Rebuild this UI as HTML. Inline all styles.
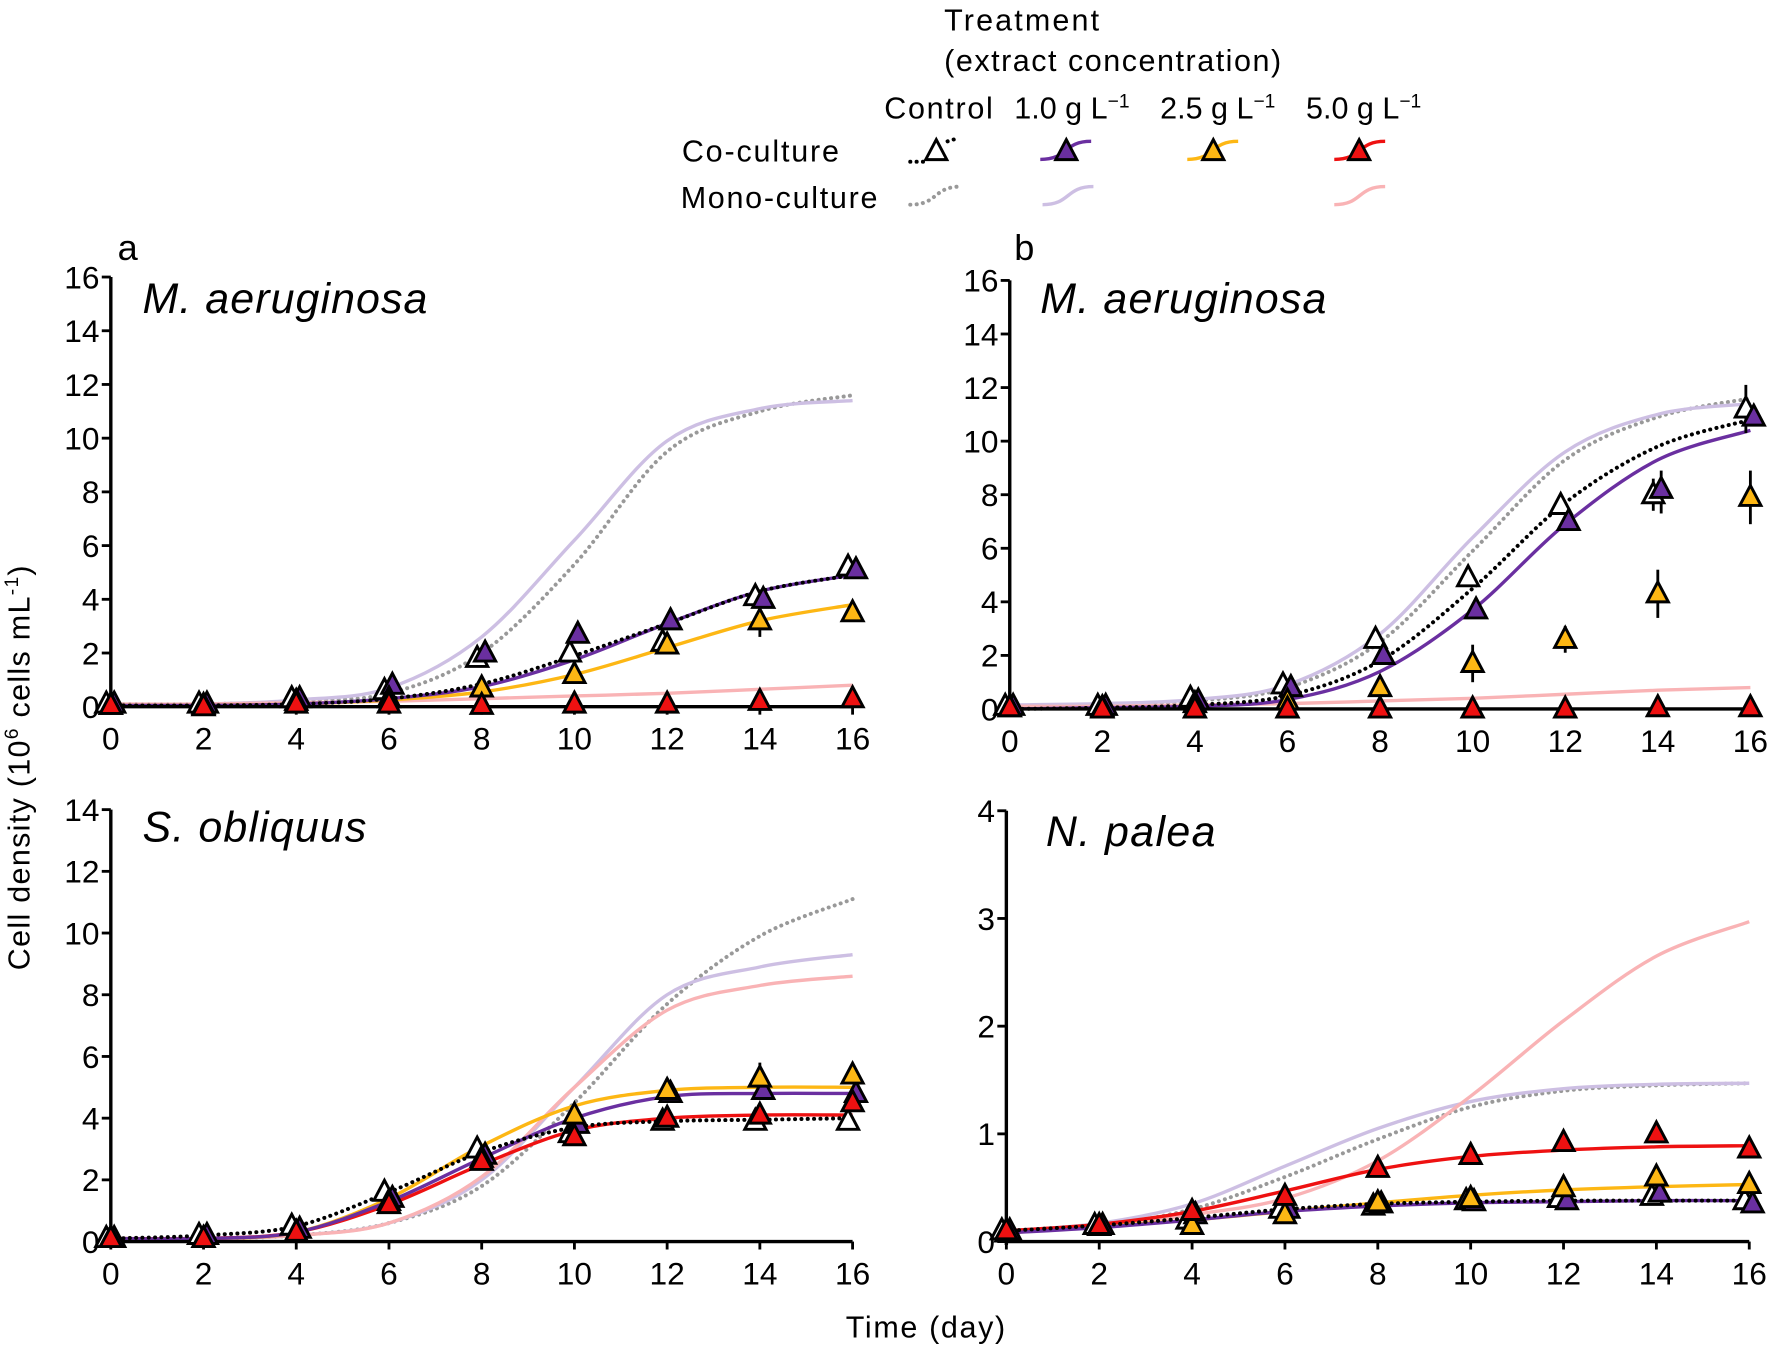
<!DOCTYPE html>
<html><head><meta charset="utf-8">
<style>html,body{margin:0;padding:0;background:#fff;}svg{display:block;}
text{font-family:"Liberation Sans",Arial,sans-serif;fill:#000;}</style></head>
<body>
<svg id="s" width="1773" height="1349" viewBox="0 0 1568 1193" preserveAspectRatio="none" xmlns="http://www.w3.org/2000/svg">
<g font-size="27">
<text x="835" y="27" textLength="137">Treatment</text>
<text x="835" y="63" textLength="298">(extract concentration)</text>
<text x="782" y="105" textLength="96">Control</text>
<text x="897" y="105">1.0 g L<tspan font-size="17" dy="-10">−1</tspan></text>
<text x="1026" y="105">2.5 g L<tspan font-size="17" dy="-10">−1</tspan></text>
<text x="1155" y="105">5.0 g L<tspan font-size="17" dy="-10">−1</tspan></text>
<text x="603" y="143" textLength="139">Co-culture</text>
<text x="602" y="184" textLength="174">Mono-culture</text>
<text x="104" y="230" font-size="32">a</text>
<text x="897" y="230" font-size="32">b</text>
<text x="748" y="1183" textLength="141">Time (day)</text>
<text transform="translate(26,858) rotate(-90)" textLength="358">Cell density (10<tspan font-size="17" dy="-10">6</tspan><tspan dy="10"> cells mL</tspan><tspan font-size="17" dy="-10">-1</tspan><tspan dy="10">)</tspan></text>
</g>
<g font-size="38" font-style="italic">
<text x="126" y="277" textLength="252">M. aeruginosa</text>
<text x="920" y="277" textLength="253">M. aeruginosa</text>
<text x="126" y="744" textLength="198">S. obliquus</text>
<text x="925" y="748" textLength="150">N. palea</text>
</g>
<g id="legend"></g>
<g id="plots"></g>
</svg>
<script>
const NS="http://www.w3.org/2000/svg";
const P=document.getElementById('plots');
function el(t,a,p){const e=document.createElementNS(NS,t);for(const k in a)e.setAttribute(k,a[k]);(p||P).appendChild(e);return e;}
const C={grey:'#999',lav:'#cdbfe3',pink:'#f9b3b5',black:'#000',purple:'#6a2fa0',yellow:'#fdb714',red:'#ee1111'};
function smooth(pts){let d='M'+pts[0][0]+','+pts[0][1];
 for(let i=0;i<pts.length-1;i++){const p0=pts[Math.max(0,i-1)],p1=pts[i],p2=pts[i+1],p3=pts[Math.min(pts.length-1,i+2)];
 const c1=[p1[0]+(p2[0]-p0[0])/6,p1[1]+(p2[1]-p0[1])/6],c2=[p2[0]-(p3[0]-p1[0])/6,p2[1]-(p3[1]-p1[1])/6];
 d+=' C'+c1+' '+c2+' '+p2;}return d;}
function tri(x,y,fill,g){const s=17;el('path',{d:`M${x},${y-s*0.62} L${x+s*0.55},${y+s*0.42} L${x-s*0.55},${y+s*0.42} Z`,fill:fill,stroke:'#000','stroke-width':2.6,'stroke-linejoin':'miter'},g);}
function dot(a){a['stroke-dasharray']='0.1,5.5';a['stroke-linecap']='round';a['stroke-width']=3.5;}
function panel(o){
 const X=d=>o.x0+d*(o.x1-o.x0)/16, Y=v=>o.y0-v*(o.y0-o.yt)/o.ymax;
 el('line',{x1:o.x0,y1:o.yt,x2:o.x0,y2:o.y0+3,stroke:'#000','stroke-width':3});
 for(let v=0;v<=o.ymax;v+=o.ystep){el('line',{x1:o.x0-8,y1:Y(v),x2:o.x0,y2:Y(v),stroke:'#000','stroke-width':2.5});
  const t=el('text',{x:o.x0-10,y:Y(v)+10,'text-anchor':'end','font-size':28});t.textContent=v;}
 for(let d=0;d<=16;d+=2){el('line',{x1:X(d),y1:o.y0,x2:X(d),y2:o.y0+7,stroke:'#000','stroke-width':2.5});
  const t=el('text',{x:X(d),y:o.y0+38,'text-anchor':'middle','font-size':28});t.textContent=d;}
 const order=['grey','lav','pink','yellow','red','purple','black'];
 order.forEach(k=>{if(!o.c[k])return;const pts=o.c[k].map((v,i)=>[X(i*2),Y(v)]);
  const a={d:smooth(pts),fill:'none',stroke:C[k],'stroke-width':3};
  if(k=='grey'||k=='black')dot(a);
  el('path',a);});
 el('line',{x1:o.x0,y1:o.y0,x2:o.x1,y2:o.y0,stroke:'#000','stroke-width':3});
 (o.e||[]).forEach(e=>{const x=X(e[0])+e[3];el('line',{x1:x,y1:Y(e[1]-e[2]),x2:x,y2:Y(e[1]+e[2]),stroke:'#000','stroke-width':2.5});});
 const fills={white:'#fff',purple:'#6a2fa0',yellow:'#fdb714',red:'#ee1111'},off={white:-4,purple:3,yellow:0,red:0};
 ['white','purple','yellow','red'].forEach(k=>{if(!o.m[k])return;o.m[k].forEach((v,i)=>tri(X(i*2)+off[k],Y(v),fills[k]));});
}
panel({x0:98,x1:754,y0:625,yt:245,ymax:16,ystep:2,
 c:{grey:[0.1,0.1,0.2,0.5,2.0,5.3,9.5,11.0,11.6],lav:[0.1,0.1,0.25,0.7,2.6,6.2,9.9,11.1,11.4],pink:[0.1,0.1,0.15,0.2,0.3,0.4,0.5,0.65,0.8],
 black:[0.05,0.05,0.1,0.3,0.85,1.9,3.1,4.3,4.9],purple:[0.05,0.05,0.1,0.3,0.75,1.75,3.1,4.3,4.9],yellow:[0.05,0.05,0.1,0.25,0.55,1.2,2.2,3.2,3.8]},
 e:[[14,3.2,0.6,0]],
 m:{white:[0.1,0.1,0.3,0.6,1.8,2.0,2.4,4.1,5.2],purple:[0.1,0.1,0.3,0.8,2.0,2.7,3.2,4.0,5.1],yellow:[0.05,0.05,0.2,0.3,0.7,1.2,2.3,3.2,3.5],red:[0.05,0,0.1,0.1,0.05,0.1,0.1,0.2,0.3]}});
panel({x0:893,x1:1548,y0:627,yt:248,ymax:16,ystep:2,
 c:{grey:[0.1,0.15,0.3,0.8,2.5,5.9,9.3,10.9,11.6],lav:[0.15,0.2,0.35,0.9,2.8,6.4,9.6,11,11.4],pink:[0.1,0.1,0.15,0.2,0.3,0.4,0.55,0.7,0.8],
 black:[0,0.05,0.15,0.5,1.8,4.5,7.7,9.8,10.8],purple:[0,0.05,0.1,0.35,1.4,3.7,6.9,9.3,10.4]},
 e:[[10,1.7,0.7,0],[12,2.6,0.5,0],[14,4.3,0.9,0],[16,7.9,1.0,0],[14,8.1,0.8,3],[16,11.2,0.9,-4],[14,8.0,0.6,-4]],
 m:{white:[0.1,0.1,0.4,0.9,2.6,4.9,7.6,8.0,11.2],purple:[0.1,0.1,0.3,0.8,2.0,3.7,7.0,8.2,10.9],yellow:[0.05,0.05,0.2,0.3,0.8,1.7,2.6,4.3,7.9],red:[0.05,0,0,0,0,0,0,0.05,0.05]}});
panel({x0:98,x1:754,y0:1098,yt:716,ymax:14,ystep:2,
 c:{grey:[0.1,0.1,0.2,0.6,1.8,4.5,7.7,9.9,11.1],lav:[0.1,0.1,0.2,0.6,2.0,5.0,8.0,8.9,9.3],pink:[0.1,0.1,0.2,0.6,2.1,5.0,7.5,8.3,8.6],
 black:[0.1,0.2,0.5,1.6,2.9,3.7,3.9,3.95,4.0],purple:[0.1,0.1,0.3,1.3,2.7,4.0,4.7,4.8,4.8],yellow:[0.1,0.1,0.3,1.4,3.1,4.4,4.9,5.0,5.0],red:[0.1,0.1,0.3,1.2,2.5,3.6,4.0,4.1,4.1]},
 e:[[14,5.3,0.5,0],[12,4.9,0.4,0]],
 m:{white:[0.1,0.2,0.5,1.6,3.0,3.5,3.9,3.9,3.9],purple:[0.1,0.2,0.4,1.4,2.8,3.8,4.8,4.9,4.8],yellow:[0.1,0.1,0.3,1.3,2.7,4.1,4.9,5.3,5.4],red:[0.1,0.1,0.3,1.2,2.6,3.4,4.0,4.1,4.5]}});
panel({x0:890,x1:1547,y0:1098,yt:717,ymax:4,ystep:1,
 c:{grey:[0.1,0.15,0.3,0.6,0.95,1.25,1.4,1.45,1.47],lav:[0.1,0.17,0.35,0.7,1.05,1.3,1.42,1.46,1.47],pink:[0.1,0.15,0.25,0.4,0.75,1.35,2.05,2.65,2.97],
 black:[0.1,0.15,0.22,0.3,0.35,0.37,0.38,0.38,0.38],purple:[0.08,0.13,0.2,0.28,0.33,0.36,0.37,0.38,0.38],yellow:[0.08,0.14,0.2,0.28,0.36,0.43,0.48,0.51,0.53],red:[0.1,0.16,0.28,0.47,0.67,0.79,0.85,0.88,0.89]},
 m:{white:[0.1,0.15,0.2,0.3,0.33,0.38,0.4,0.42,0.38],purple:[0.1,0.15,0.25,0.3,0.35,0.37,0.38,0.45,0.35],yellow:[0.08,0.14,0.15,0.25,0.36,0.4,0.5,0.6,0.53],red:[0.1,0.15,0.28,0.42,0.68,0.8,0.92,1.0,0.86]}});
const L=document.getElementById('legend');
function lc(x,y,col,dash){const a={d:`M${x},${y+8} C${x+25},${y+8} ${x+20},${y-8} ${x+45},${y-8}`,fill:'none',stroke:col,'stroke-width':3};
 if(dash)dot(a);el('path',a,L);}
lc(920,133,C.purple);lc(1050,133,C.yellow);lc(1180,133,C.red);
const a={d:'M805,143 L818,143 M838,125 L848,122',stroke:'#000',fill:'none'};dot(a);el('path',a,L);
tri(828,134,'#fff',L);tri(943,134,'#6a2fa0',L);tri(1073,134,'#fdb714',L);tri(1202,134,'#ee1111',L);
lc(805,173,C.grey,true);lc(922,173,C.lav);lc(1180,173,C.pink);
</script>
</body></html>
